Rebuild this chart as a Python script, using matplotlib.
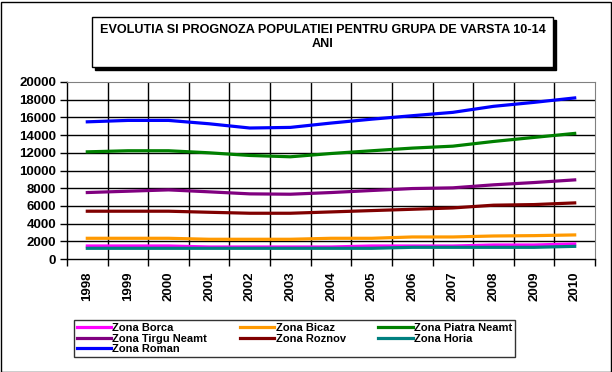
import numpy as np
import matplotlib
matplotlib.use("Agg")
import matplotlib.pyplot as plt
from matplotlib.patches import Rectangle

plt.rcParams['font.family'] = ['Liberation Sans', 'DejaVu Sans']

years = ['1998', '1999', '2000', '2001', '2002', '2003', '2004',
         '2005', '2006', '2007', '2008', '2009', '2010']

borca = [1470, 1470, 1470, 1360, 1360, 1360, 1360, 1470, 1470, 1470, 1580, 1580, 1700]
bicaz = [2340, 2340, 2340, 2230, 2230, 2230, 2340, 2340, 2490, 2490, 2600, 2640, 2720]
piatra = [12110, 12230, 12230, 12000, 11700, 11550, 11920, 12230, 12530, 12750, 13280, 13740, 14190]
tirgu = [7510, 7660, 7810, 7590, 7360, 7320, 7510, 7740, 7960, 8040, 8380, 8640, 8940]
roznov = [5400, 5400, 5400, 5280, 5170, 5170, 5320, 5470, 5620, 5770, 6080, 6150, 6340]
horia = [1210, 1210, 1210, 1210, 1210, 1210, 1210, 1210, 1320, 1320, 1320, 1320, 1430]
roman = [15500, 15660, 15660, 15280, 14800, 14870, 15360, 15800, 16190, 16570, 17250, 17700, 18200]

titlu = 'EVOLUTIA SI PROGNOZA POPULATIEI PENTRU GRUPA DE VARSTA 10-14\nANI'

fig = plt.figure(figsize=(6.12, 3.72), dpi=100)
ax = fig.add_axes([67/612, 1-259/372, 528/612, 177/372])

x = np.arange(len(years))
lw = 2.3
l_borca, = ax.plot(x, borca, color='#FF00FF', lw=lw, label='Zona Borca')
l_bicaz, = ax.plot(x, bicaz, color='#FF9900', lw=lw, label='Zona Bicaz')
l_piatra, = ax.plot(x, piatra, color='#008000', lw=lw, label='Zona Piatra Neamt')
l_tirgu, = ax.plot(x, tirgu, color='#800080', lw=lw, label='Zona Tirgu Neamt')
l_roznov, = ax.plot(x, roznov, color='#800000', lw=lw, label='Zona Roznov')
l_horia, = ax.plot(x, horia, color='#008080', lw=lw, label='Zona Horia')
l_roman, = ax.plot(x, roman, color='#0000FF', lw=lw, label='Zona Roman')

ax.set_xlim(-0.5, len(years) - 0.5)
ax.set_ylim(0, 20000)

# grid (black), interior only so the gray frame stays gray
yt = np.arange(0, 20001, 2000)
for v in yt[1:-1]:
    ax.axhline(v, color='black', lw=1, zorder=0)
for v in np.arange(0.5, len(years) - 1, 1):
    ax.axvline(v, color='black', lw=1, zorder=0)

ax.set_yticks(yt)
ax.set_yticklabels([str(v) for v in yt], fontsize=9.5, fontweight='bold')
ax.set_xticks(x)
ax.set_xticklabels(years, rotation=90, fontsize=9.5, fontweight='bold')
ax.set_xticks(np.arange(-0.5, len(years)), minor=True)
ax.tick_params(axis='x', which='major', length=0, pad=9)
ax.tick_params(axis='x', which='minor', length=5, width=1, direction='out')
ax.tick_params(axis='y', length=5, width=1, direction='out', pad=3)

ax.spines['top'].set_color('#808080')
ax.spines['right'].set_color('#808080')
for s in ['left', 'bottom']:
    ax.spines[s].set_color('black')
    ax.spines[s].set_linewidth(1)

# legend: order so columns read row-wise like the original
handles = [l_borca, l_tirgu, l_roman, l_bicaz, l_roznov, l_piatra, l_horia]
leg = fig.legend(handles=handles, ncol=3, mode='expand',
                 bbox_to_anchor=(74/612, 1-357/372, 441/612, 43/372),
                 loc='lower left', prop={'weight': 'bold', 'size': 8},
                 frameon=True, fancybox=False, edgecolor='black',
                 borderpad=0.25, labelspacing=0.05, handlelength=3.1,
                 handletextpad=0.1, borderaxespad=0, columnspacing=0.5)
leg.get_frame().set_linewidth(1)

# title box with shadow
fig.patches.append(Rectangle((95/612, 1-70/372), 461/612, 50/372, transform=fig.transFigure,
                             facecolor='black', edgecolor='black', zorder=1))
fig.patches.append(Rectangle((92/612, 1-67/372), 461/612, 50/372, transform=fig.transFigure,
                             facecolor='white', edgecolor='black', lw=1, zorder=2))
fig.text(323/612, 1-37/372, titlu, ha='center', va='center', fontsize=9.1,
         fontweight='bold', linespacing=1.3, zorder=3)

# outer border
fig.patches.append(Rectangle((0.5/612, 0.5/372), 610/612, 370/372, transform=fig.transFigure,
                             facecolor='none', edgecolor='black', lw=1))

fig.savefig('out.png', dpi=100)
